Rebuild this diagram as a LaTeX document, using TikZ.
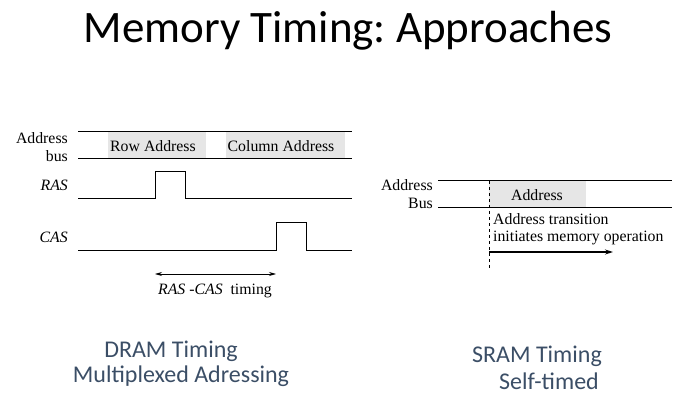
\documentclass[tikz,border=0pt]{standalone}
\usepackage{fontspec}
\setmainfont{Liberation Serif}
\newfontfamily\slidefont{Carlito}
\usetikzlibrary{arrows.meta, positioning}
\definecolor{busgray}{HTML}{E6E6E6}
\definecolor{captionblue}{HTML}{3B4E66}
\frenchspacing

\begin{document}
\begin{tikzpicture}[
        x=1pt, y=-1pt,
        wire/.style={line width=1pt},
        busbox/.style={fill=busgray, draw=none},
        lbl/.style={font=\fontsize{15.8}{17.5}\selectfont, inner sep=0pt},
        caption/.style={font=\slidefont\fontsize{24}{28}\selectfont, text=captionblue, inner sep=0pt},
        arrow/.style={-{Stealth[length=8pt, width=5pt]}, line width=1.1pt}
    ]
        \useasboundingbox (0,0) rectangle (683,406);
        \node[font=\slidefont\fontsize{45}{54}\selectfont] (title) at (348,31) {Memory Timing: Approaches};

        % DRAM timing
        \fill[busgray] (108,132) rectangle (206,159);
        \fill[busgray] (226,132) rectangle (345,159);
        \node[lbl] (row) at (153,146) {Row Address};
        \node[lbl] (col) at (281,146) {Column Address};
        \draw[wire] (78,132) -- (352,132);
        \draw[wire] (78,159) -- (352,159);
        \node[lbl, anchor=east, align=right] (dbus) at (68,147) {Address\\bus};

        \node[lbl, anchor=east] (ras) at (68,185) {\itshape RAS};
        \draw[wire] (78,199) -- (155,199) -- (155,172) -- (185,172) -- (185,199) -- (352,199);
        \node[lbl, anchor=east] (cas) at (68,237) {\itshape CAS};
        \draw[wire] (78,251) -- (276,251) -- (276,223) -- (306,223) -- (306,251) -- (352,251);

        \coordinate (rasup) at (155,274);
        \coordinate (casup) at (276,274);
        \draw[{Stealth[length=7pt, width=4pt]}-{Stealth[length=7pt, width=4pt]}, line width=0.8pt] (rasup) -- (casup);
        \node[lbl] (rcas) at (215,291) {\itshape RAS -CAS\upshape\ \ timing};

        \node[caption] (dram) at (171,351) {DRAM Timing};
        \node[caption] (mux) at (181,376) {Multiplexed Adressing};

        % SRAM timing
        \fill[busgray] (489,181) rectangle (586,208);
        \node[lbl] (addr) at (537,195) {Address};
        \draw[wire] (438,181) -- (672,181);
        \draw[wire] (438,208) -- (672,208);
        \node[lbl, anchor=east, align=right] (sbus) at (433,194) {Address\\Bus};
        \coordinate (ttop) at (489,181);
        \coordinate (tbot) at (489,268);
        \draw[dashed, line width=0.8pt] (ttop) -- (tbot);
        \node[lbl, anchor=north west, align=left] (trans) at (493,213) {Address transition\\initiates memory operation};
        \coordinate (astart) at (489,252);
        \coordinate (aend) at (613,252);
        \draw[arrow] (astart) -- (aend);

        \node[caption] (sram) at (537,356) {SRAM Timing};
        \node[caption] (self) at (549,381) {Self-timed};
    \end{tikzpicture}
\end{document}
